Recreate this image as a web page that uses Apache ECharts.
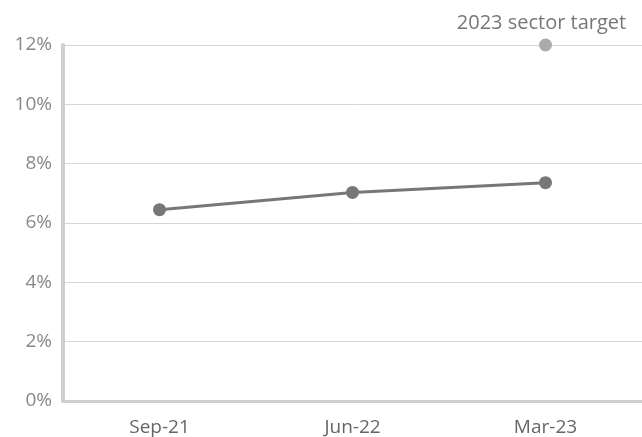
<!DOCTYPE html>
<html><head><meta charset="utf-8">
<script src="https://cdn.jsdelivr.net/npm/echarts@6/dist/echarts.min.js"></script>
<style>html,body{margin:0;padding:0;background:#fff}#c{width:642px;height:437px}</style>
</head><body><div id="c"></div>
<script>
const categories = ['Sep-21', 'Jun-22', 'Mar-23'];
const actualValues = [6.45, 7.03, 7.36];
const targetValues = [null, null, 12];
const targetLabel = '2023 sector target';
const yTicks = [0, 2, 4, 6, 8, 10, 12];

const chart = echarts.init(document.getElementById('c'));
chart.setOption({
  animation: false,
  grid: { left: 63, right: 0, top: 45, bottom: 35 },
  xAxis: {
    type: 'category',
    data: categories,
    boundaryGap: true,
    axisLine: { show: true, lineStyle: { color: '#cfcfcf', width: 3 } },
    axisTick: { show: false },
    axisLabel: { color: '#666', fontSize: 19, fontFamily: 'Open Sans', margin: 17 }
  },
  yAxis: {
    type: 'value',
    min: yTicks[0], max: yTicks[yTicks.length - 1], interval: 2,
    axisLine: { show: true, lineStyle: { color: '#cfcfcf', width: 4 } },
    axisTick: { show: false },
    axisLabel: { color: '#888', fontSize: 19, fontFamily: 'Open Sans', margin: 11, formatter: v => v + '%' },
    splitLine: { show: true, lineStyle: { color: '#d6d6d6', width: 1 } }
  },
  series: [
    {
      type: 'line',
      data: actualValues,
      symbol: 'circle',
      symbolSize: 13,
      lineStyle: { color: '#777', width: 3 },
      itemStyle: { color: '#777' }
    },
    {
      type: 'line',
      data: targetValues,
      symbol: 'circle',
      symbolSize: 13,
      lineStyle: { width: 0 },
      itemStyle: { color: '#aaa' },
      label: {
        show: true, position: 'top', distance: 6, formatter: targetLabel,
        color: '#777', fontSize: 20, fontFamily: 'Open Sans', offset: [-4, 1]
      }
    }
  ]
});
</script></body></html>
